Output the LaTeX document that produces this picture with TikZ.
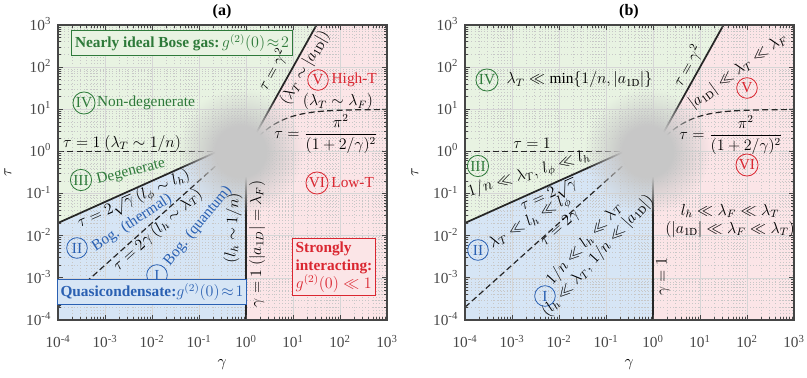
\documentclass[tikz,border=0pt]{standalone}
\usepackage{fontspec}
\setmainfont{Liberation Serif}
\usetikzlibrary{positioning,fadings}

\definecolor{greenfill}{RGB}{232,243,226}
\definecolor{bluefill}{RGB}{214,229,245}
\definecolor{pinkfill}{RGB}{251,229,231}
\definecolor{greentext}{RGB}{46,122,58}
\definecolor{bluetext}{RGB}{42,96,178}
\definecolor{redtext}{RGB}{218,38,48}
\definecolor{axisgray}{RGB}{70,70,70}

% grey blur with a flat core
\pgfdeclareradialshading{blobshade}{\pgfpoint{0bp}{0bp}}{%
  color(0bp)=(pgftransparent!0); color(10bp)=(pgftransparent!0);
  color(25bp)=(pgftransparent!100); color(50bp)=(pgftransparent!100)}
\pgfdeclarefading{blobfade}{\pgfuseshading{blobshade}}

\tikzset{
  bound/.style={line width=1.3pt, black!85},
  crossover/.style={line width=0.9pt, black!85, dash pattern=on 4.5pt off 2.5pt},
  majorgrid/.style={line width=0.4pt, black!16},
  minorgrid/.style={line width=0.4pt, black!22, dotted},
  frame/.style={line width=0.9pt, axisgray},
  axtick/.style={line width=0.5pt, axisgray},
  ticklabel/.style={text=axisgray, inner sep=0pt},
  regime/.style={circle, draw, line width=0.6pt, inner sep=0.8pt, minimum size=15.5pt},
  note/.style={inner sep=1pt},
  infobox/.style={draw, line width=0.7pt, inner sep=2.5pt},
}

% one log-log panel, drawn in (log gamma, log tau) coordinates
\newcommand\phasepanel[1]{%
  % regions
  \fill[greenfill] (-4,3) -- (1.5,3) -- (0.2007,0.4014) -- (-4,-1.699) -- cycle;
  \fill[bluefill] (-4,-4) -- (0,-4) -- (0,0.301) -- (-4,-1.699) -- cycle;
  \fill[pinkfill] (0,-4) -- (3,-4) -- (3,3) -- (1.5,3) -- (0.2007,0.4014) -- (0,0.301) -- cycle;
  % grid
  \foreach \dec in {-4,...,2}{
    \foreach \kk in {2,...,9}{
      \pgfmathsetmacro\mm{\dec+log10(\kk)}
      \draw[minorgrid] (\mm,-4) -- (\mm,3);
      \draw[minorgrid] (-4,\mm) -- (3,\mm);
    }
  }
  \foreach \dec in {-3,...,2}{
    \draw[majorgrid] (\dec,-4) -- (\dec,3);
    \draw[majorgrid] (-4,\dec) -- (3,\dec);
  }
  % crossovers
  \draw[bound] (-4,-1.699) -- (-0.602,0);
  \draw[bound] (0,-4) -- (0,0);
  \draw[bound] (0,0) -- (1.5,3);
  \draw[crossover] (-4,0) -- (0,0);
  \draw[crossover] (-4,-3.699) -- (-0.301,0);
  \draw[crossover] plot[domain=0:3, samples=50, smooth] (\x,{log10(pi^2)-2*log10(1+2/10^\x)});
  % blurred corner
  \fill[black!22, path fading=blobfade] (-0.12,0) circle (47pt);
  % axes
  \draw[frame] (-4,-4) rectangle (3,3);
  \foreach \dec in {-4,...,3}{
    \draw[axtick] (\dec,-4) -- ++(0,4pt);
    \draw[axtick] (\dec,3) -- ++(0,-4pt);
    \draw[axtick] (-4,\dec) -- ++(4pt,0);
    \draw[axtick] (3,\dec) -- ++(-4pt,0);
    \node[ticklabel, anchor=base, yshift=-21pt] (#1x\dec) at (\dec,-4) {10\textsuperscript{\dec}};
    \node[ticklabel, anchor=base east, xshift=-5pt, yshift=-4pt] (#1y\dec) at (-4,\dec) {10\textsuperscript{\dec}};
  }
  \foreach \dec in {-4,...,2}{
    \foreach \kk in {2,...,9}{
      \pgfmathsetmacro\mm{\dec+log10(\kk)}
      \draw[axtick] (\mm,-4) -- ++(0,2.2pt);
      \draw[axtick] (\mm,3) -- ++(0,-2.2pt);
      \draw[axtick] (-4,\mm) -- ++(2.2pt,0);
      \draw[axtick] (3,\mm) -- ++(-2.2pt,0);
    }
  }
}

\begin{document}
\begin{tikzpicture}[x=0.75pt, y=-0.75pt, font=\fontsize{11.5}{13.5}\selectfont]

  \useasboundingbox (0,0) rectangle (807,378);

  \begin{scope}[shift={(246,151.4)}, x=35.25pt, y=31.6pt]
    \phasepanel{a}
  \end{scope}
  \begin{scope}[shift={(653,151.4)}, x=35.25pt, y=31.6pt]
    \phasepanel{b}
  \end{scope}

  % panel (a)
  \node[font=\fontsize{12}{14}\selectfont\bfseries] (ttla) at (222,12) {(a)};
  \node[rotate=90, font=\fontsize{13}{15}\selectfont] (taua) at (8,172) {$\tau$};
  \node[font=\fontsize{13}{15}\selectfont] (gama) at (222,365) {$\gamma$};

  \node[infobox, draw=greentext, fill=greenfill, text=greentext] (ideal) at (182,43)
    {\textbf{Nearly ideal Bose gas:}\,$g^{(2)}(0)\!\approx\!2$};
  \node[regime, greentext] (r4a) at (84,103) {IV};
  \node[note, greentext, right=0pt of r4a] (ndeg) {Non-degenerate};
  \node[note] (t1a) at (122,143) {$\tau=1$ $(\lambda_T\sim 1/n)$};
  \node[regime, greentext] (r3a) at (81,180) {III};
  \node[note, greentext, rotate=14] (deg) at (131,172) {Degenerate};
  \node[note, rotate=24] (sqa) at (134,200) {$\tau=2\sqrt{\gamma}$ $(l_\phi\sim l_h)$};
  \node[regime, bluetext] (r2a) at (77,248) {II};
  \node[note, bluetext, rotate=33] (therm) at (132,223) {Bog. (thermal)};
  \node[note, rotate=42] (lina) at (158,230) {$\tau=2\gamma$ $(l_h\sim\lambda_T)$};
  \node[regime, bluetext] (r1a) at (157,275) {I};
  \node[note, bluetext, rotate=51] (quant) at (198,226) {Bog. (quantum)};
  \node[note, rotate=87] (lhn) at (233,228) {$(l_h\sim 1/n)$};
  \node[infobox, draw=bluetext, fill=bluefill, text=bluetext] (quasi) at (152,292)
    {\textbf{Quasicondensate:}$g^{(2)}(0)\!\approx\!1$};
  \node[note, rotate=90] (g1a) at (257,244) {$\gamma=1$ $(|a_{1D}|=\lambda_F)$};
  \node[infobox, draw=redtext, fill=pinkfill, text=redtext, align=left] (strong) at (334,267)
    {\textbf{Strongly}\\\textbf{interacting:}\\$g^{(2)}(0)\ll 1$};
  \node[note, rotate=61] (sqra) at (273,70) {$\tau=\gamma^2$};
  \node[note, rotate=60] (adim) at (305,68) {$(\lambda_T\sim|a_{\mathrm{1D}}|)$};
  \node[regime, redtext] (r5a) at (318,80) {V};
  \node[note, redtext, right=1pt of r5a] (hight) {High-T};
  \node[note] (tfa) at (338,102) {$(\lambda_T\sim\lambda_F)$};
  \node[note] (pia) at (326,134) {$\displaystyle\tau=\frac{\pi^2}{(1+2/\gamma)^2}$};
  \node[regime, redtext] (r6a) at (317,183) {VI};
  \node[note, redtext, right=1pt of r6a] (lowt) {Low-T};

  % panel (b)
  \node[font=\fontsize{12}{14}\selectfont\bfseries] (ttlb) at (629,12) {(b)};
  \node[rotate=90, font=\fontsize{13}{15}\selectfont] (taub) at (415,172) {$\tau$};
  \node[font=\fontsize{13}{15}\selectfont] (gamb) at (629,365) {$\gamma$};

  \node[regime, greentext] (r4b) at (487,80) {IV};
  \node[note, right=5pt of r4b] (r4btxt) {$\lambda_T\ll\min\{1/n,|a_{\mathrm{1D}}|\}$};
  \node[note] (t1b) at (532,143) {$\tau=1$};
  \node[regime, greentext] (r3b) at (478,166) {III};
  \node[note, rotate=17] (r3btxt) at (529,174) {$1/n\ll\lambda_T,\,l_\phi\ll l_h$};
  \node[note, rotate=24] (sqb) at (549,196) {$\tau=2\sqrt{\gamma}$};
  \node[regime, bluetext] (r2b) at (478,250) {II};
  \node[note, rotate=31] (r2btxt) at (530,222) {$\lambda_T\ll l_h\ll l_\phi$};
  \node[note, rotate=42] (linb) at (560,228) {$\tau=2\gamma$};
  \node[regime, bluetext] (r1b) at (545,296) {I};
  \node[note, rotate=48, align=center] (r1btxt) at (591,250)
    {$1/n\ll l_h\ll\lambda_T$\\$(l_h\ll\lambda_T,\,1/n\ll|a_{\mathrm{1D}}|)$};
  \node[note, rotate=90] (g1b) at (663,277) {$\gamma=1$};
  \node[note, rotate=61] (sqrb) at (688,66) {$\tau=\gamma^2$};
  \node[note, rotate=36] (r5btxt) at (738,71) {$|a_{\mathrm{1D}}|\ll\lambda_T\ll\lambda_F$};
  \node[regime, redtext] (r5b) at (747,88) {V};
  \node[note] (pib) at (731,135) {$\displaystyle\tau=\frac{\pi^2}{(1+2/\gamma)^2}$};
  \node[regime, redtext] (r6b) at (747,165) {VI};
  \node[note, align=center] (r6btxt) at (730,221)
    {$l_h\ll\lambda_F\ll\lambda_T$\\$(|a_{\mathrm{1D}}|\ll\lambda_F\ll\lambda_T)$};

\end{tikzpicture}
\end{document}
